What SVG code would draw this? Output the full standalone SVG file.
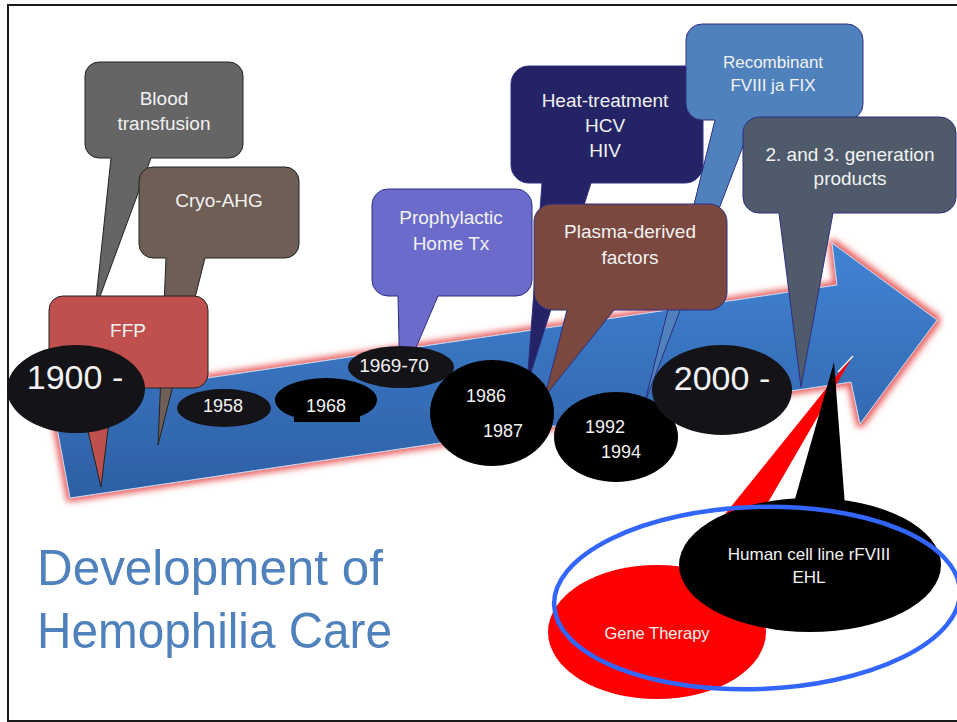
<svg xmlns="http://www.w3.org/2000/svg" width="957" height="722" viewBox="0 0 957 722">
<defs>
<style>
.t{font-family:"Liberation Sans",Arial,sans-serif;fill:#f2f2f2;text-anchor:middle}
.s19{font-size:19px}
.s18{font-size:18px}
.s17{font-size:17px}
.big{font-size:34px}
.dk{stroke:#222;stroke-width:1}
.nv{stroke:#2e2e80;stroke-width:1}
.ttl{font-family:"Liberation Sans",Arial,sans-serif;fill:#4f81bd;font-size:50px}
</style>
<linearGradient id="ag" gradientUnits="userSpaceOnUse" x1="0" y1="243" x2="0" y2="498">
<stop offset="0" stop-color="#4283d4"/>
<stop offset="1" stop-color="#2d5fa3"/>
</linearGradient>
<filter id="glow" x="-5%" y="-15%" width="110%" height="130%">
<feMorphology in="SourceAlpha" operator="dilate" radius="3" result="d"/>
<feGaussianBlur in="d" stdDeviation="3" result="b"/>
<feFlood flood-color="#e84f4f" flood-opacity="0.9"/>
<feComposite in2="b" operator="in" result="g"/>
<feMerge><feMergeNode in="g"/><feMergeNode in="SourceGraphic"/></feMerge>
</filter>
</defs>
<rect width="957" height="722" fill="#fff"/>
<path d="M957,5 H8 V721 H957" fill="none" stroke="#1a1a1a" stroke-width="2"/>

<g id="arrow">
<polygon points="52,401 837,285 832,243 937,320 860,424 851,382 70,498" fill="url(#ag)" stroke="#c8d8ee" stroke-width="1" filter="url(#glow)"/>
</g>

<g id="blood">
<path class="dk" fill="#656565" d="M99,62 H229 A14,14 0 0 1 243,76 V144 A14,14 0 0 1 229,158 H151 L95,310 L111,158 H99 A14,14 0 0 1 85,144 V76 A14,14 0 0 1 99,62 Z"/>
<text class="t s19" x="164" y="105">Blood</text>
<text class="t s19" x="164" y="130">transfusion</text>
</g>
<g id="cryo">
<path class="dk" fill="#6e5e55" d="M153,167 H285 A14,14 0 0 1 299,181 V244 A14,14 0 0 1 285,258 H205 L158,445 L166,258 H153 A14,14 0 0 1 139,244 V181 A14,14 0 0 1 153,167 Z"/>
<text class="t s19" x="219" y="207" fill="#eee6dd">Cryo-AHG</text>
</g>
<g id="ffp">
<path class="dk" fill="#c0504d" d="M63,296 H194 A14,14 0 0 1 208,310 V374 A14,14 0 0 1 194,388 H113 L101,487 L78,388 H63 A14,14 0 0 1 49,374 V310 A14,14 0 0 1 63,296 Z"/>
<text class="t s19" x="128" y="337">FFP</text>
</g>
<g id="y1900">
<ellipse cx="76" cy="389" rx="69" ry="44" fill="#131318"/>
<text class="t big" x="75" y="389">1900 -</text>
</g>
<g id="y1958">
<ellipse cx="224" cy="408" rx="47" ry="19" fill="#131318"/>
<text class="t s18" x="223" y="412">1958</text>
</g>
<g id="y1968">
<ellipse cx="326" cy="400" rx="51" ry="22" fill="#000"/>
<rect x="294" y="412" width="66" height="10" fill="#000"/>
<text class="t s18" x="326" y="412">1968</text>
</g>
<g id="prophylactic">
<path class="nv" fill="#6b6bcc" d="M388,189 H516 A16,16 0 0 1 532,205 V280 A16,16 0 0 1 516,296 H438 L400,385 L398,296 H388 A16,16 0 0 1 372,280 V205 A16,16 0 0 1 388,189 Z"/>
<text class="t s19" x="451" y="224">Prophylactic</text>
<text class="t s19" x="451" y="250">Home Tx</text>
</g>
<g id="y1969">
<ellipse cx="401" cy="367" rx="53" ry="21" fill="#131318"/>
<text class="t s19" x="394" y="372">1969-70</text>
</g>
<g id="heat">
<path class="nv" fill="#232366" d="M529,66 H685 A18,18 0 0 1 703,84 V165 A18,18 0 0 1 685,183 H591 L527,385 L542,183 H529 A18,18 0 0 1 511,165 V84 A18,18 0 0 1 529,66 Z"/>
<text class="t s19" x="605" y="107">Heat-treatment</text>
<text class="t s19" x="605" y="132">HCV</text>
<text class="t s19" x="605" y="157">HIV</text>
</g>
<g id="recombinant">
<path class="nv" fill="#4f81bd" d="M702,24 H847 A16,16 0 0 1 863,40 V104 A16,16 0 0 1 847,120 H753 L645,402 L715,120 H702 A16,16 0 0 1 686,104 V40 A16,16 0 0 1 702,24 Z"/>
<text class="t s17" x="773" y="68">Recombinant</text>
<text class="t s17" x="773" y="91">FVIII ja FIX</text>
</g>
<g id="plasma">
<path class="nv" fill="#7a483e" d="M552,204 H709 A18,18 0 0 1 727,222 V292 A18,18 0 0 1 709,310 H614 L545,396 L567,310 H552 A18,18 0 0 1 534,292 V222 A18,18 0 0 1 552,204 Z"/>
<text class="t s19" x="630" y="238">Plasma-derived</text>
<text class="t s19" x="630" y="264">factors</text>
</g>
<g id="generation">
<path class="nv" fill="#4f5b6a" d="M759,117 H940 A16,16 0 0 1 956,133 V197 A16,16 0 0 1 940,213 H833 L801,387 L779,213 H759 A16,16 0 0 1 743,197 V133 A16,16 0 0 1 759,117 Z"/>
<text class="t s19" x="850" y="161">2. and 3. generation</text>
<text class="t s19" x="850" y="185">products</text>
</g>
<g id="y1986">
<ellipse cx="492" cy="413" rx="62" ry="53" fill="#000"/>
<text class="t s18" x="486" y="402">1986</text>
<text class="t s18" x="503" y="437">1987</text>
</g>
<g id="y1992">
<ellipse cx="616" cy="437" rx="62" ry="45" fill="#000"/>
<text class="t s18" x="605" y="433">1992</text>
<text class="t s18" x="621" y="458">1994</text>
</g>
<g id="y2000">
<ellipse cx="722" cy="390" rx="70" ry="45" fill="#131318"/>
<text class="t big" x="722" y="390">2000 -</text>
</g>

<g id="connectors">
<polygon points="854,354 672,580 700,620" fill="#ff0000"/>
<line x1="853" y1="356" x2="838" y2="372" stroke="#fff" stroke-width="1.2"/>
<polygon points="834,362 793,506 845,506" fill="#000"/>
</g>

<g id="gene">
<ellipse cx="657" cy="632" rx="109" ry="67" fill="#ff0000"/>
<text class="t" style="font-size:16.5px" x="657" y="639">Gene Therapy</text>
</g>
<g id="human">
<ellipse cx="810" cy="565" rx="131" ry="67" fill="#000"/>
<text class="t s17" x="809" y="560">Human cell line rFVIII</text>
<text class="t s17" x="809" y="583">EHL</text>
</g>
<g id="ring">
<ellipse cx="757" cy="598" rx="203" ry="91" fill="none" stroke="#3366ff" stroke-width="4.5" transform="rotate(-2 757 598)"/>
</g>

<g id="title">
<text class="ttl" x="37" y="585" textLength="346" lengthAdjust="spacingAndGlyphs">Development of</text>
<text class="ttl" x="37" y="648" textLength="355" lengthAdjust="spacingAndGlyphs">Hemophilia Care</text>
</g>
</svg>
